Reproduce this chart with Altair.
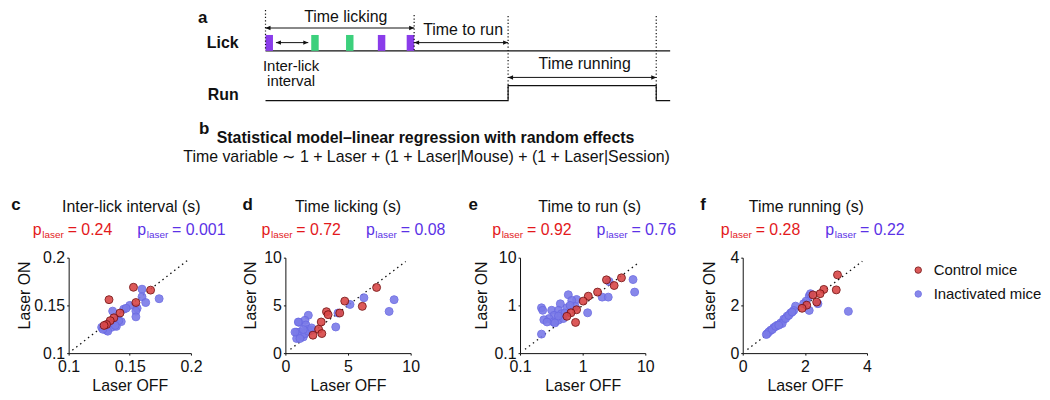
import altair as alt
import pandas as pd

FONT = "Liberation Sans"
INK = "#111111"
RED_TXT = "#E3191C"
BLUE_TXT = "#5B32E6"
RED_FILL = "#D94848"
RED_STROKE = "#7A1212"
BLUE_FILL = "#7B7BE8"
BLUE_STROKE = "#6B6BE3"
PURPLE = "#8A3CEA"
GREEN = "#3CD07C"
GROUPS = ["Control mice", "Inactivated mice"]
FS = 16

# ---------------- panel a: trial timeline (s) ----------------
lick_onsets = [0.0, 0.46, 0.81, 1.13, 1.42]
lick_laser = [True, False, False, True, True]
lick_duration = 0.075
run_start = 2.44
run_end = 3.93
trace_end = 4.07

# ---------------- panels c-f ----------------
panel_letters = ["c", "d", "e", "f"]
panel_titles = ["Inter-lick interval (s)", "Time licking (s)", "Time to run (s)", "Time running (s)"]
p_control = ["0.24", "0.72", "0.92", "0.28"]
p_inactivated = ["0.001", "0.08", "0.76", "0.22"]

c_ctrl_off = [0.153, 0.167, 0.133, 0.155, 0.142, 0.137, 0.134, 0.131, 0.129]
c_ctrl_on = [0.169, 0.166, 0.156, 0.153, 0.142, 0.137, 0.134, 0.130, 0.129]
c_inac_off = [0.160, 0.174, 0.160, 0.163, 0.150, 0.145, 0.136, 0.156, 0.155, 0.155, 0.140, 0.143,
              0.137, 0.127, 0.131, 0.135, 0.132, 0.139, 0.133, 0.128, 0.141, 0.147, 0.138]
c_inac_on = [0.167, 0.157, 0.159, 0.153, 0.150, 0.146, 0.144, 0.147, 0.144, 0.138, 0.136, 0.133,
             0.132, 0.127, 0.124, 0.127, 0.123, 0.128, 0.131, 0.125, 0.134, 0.147, 0.129]

d_ctrl_off = [7.28, 4.74, 6.14, 3.28, 3.41, 4.34, 2.86, 2.65, 2.91, 2.20]
d_ctrl_on = [6.88, 5.45, 4.90, 4.34, 4.03, 4.20, 3.26, 2.50, 2.05, 1.88]
d_inac_off = [6.27, 8.68, 5.16, 8.28, 4.20, 4.02, 1.83, 1.09, 1.56, 1.64, 0.90, 1.16,
              2.09, 1.77, 1.43, 0.90, 1.30, 1.56, 1.83, 1.16, 2.09, 1.43, 1.03, 0.77]
d_inac_on = [5.80, 5.60, 5.10, 4.37, 4.20, 2.74, 3.96, 3.23, 3.44, 2.95, 2.19, 2.22,
             2.40, 2.47, 1.70, 1.53, 1.88, 2.05, 2.29, 1.53, 2.64, 2.47, 3.26, 2.20]

e_ctrl_off = [4.16, 2.40, 3.18, 1.73, 1.23, 1.02, 0.80, 0.65, 0.56, 0.77]
e_ctrl_on = [3.78, 3.43, 2.61, 1.90, 1.56, 1.23, 0.81, 0.70, 0.59, 0.44]
e_inac_off = [6.37, 6.76, 2.65, 2.05, 2.56, 1.20, 0.59, 0.80, 0.67, 0.44, 0.56, 0.76, 0.22, 0.23,
              0.32, 0.41, 0.35, 0.29, 0.24, 0.34, 0.41, 0.49, 0.46, 0.52, 0.36, 0.22, 0.27, 0.41, 0.63]
e_inac_on = [3.48, 1.90, 3.16, 1.49, 1.49, 0.70, 1.67, 1.33, 1.27, 1.08, 0.89, 0.95, 0.89, 0.79,
             0.79, 0.79, 0.62, 0.53, 0.50, 0.45, 0.49, 0.53, 0.67, 0.69, 0.43, 0.25, 0.45, 0.60, 1.00]

f_ctrl_off = [3.05, 3.01, 2.61, 2.49, 2.26, 2.38, 2.06, 1.91]
f_ctrl_on = [3.28, 2.65, 2.67, 2.49, 2.44, 2.14, 2.01, 1.88]
f_inac_off = [3.40, 2.14, 2.04, 2.42, 2.14, 1.70, 1.64, 1.54, 1.43, 1.32, 1.22, 1.11, 1.00,
              0.90, 0.79, 0.84, 0.95, 1.06, 1.27, 1.38, 1.48, 1.59, 1.16, 1.96, 2.18, 0.76]
f_inac_on = [1.75, 2.39, 2.18, 2.07, 1.79, 1.97, 1.79, 1.68, 1.55, 1.42, 1.26, 1.17, 1.07,
             0.96, 0.82, 0.89, 0.99, 1.12, 1.24, 1.45, 1.58, 1.72, 1.17, 2.07, 2.49, 0.78]

axis_ticks = [[0.1, 0.15, 0.2], [0, 5, 10], [0.1, 1, 10], [0, 2, 4]]
scale_types = ["linear", "linear", "log", "linear"]
diagonals = [[0.103, 0.197], [0.4, 9.6], [0.12, 7.8], [0.15, 3.85]]

one = pd.DataFrame({"k": [0]})


def label(s, x, y, size=FS, color=INK, weight="normal", align="left", angle=0, dx=0,
          baseline="alphabetic", xenc=None, line_height=None):
    kw = dict(text=s, font=FONT, fontSize=size, color=color, fontWeight=weight, align=align,
              baseline=baseline, angle=angle, dx=dx)
    if line_height is not None:
        kw["lineHeight"] = line_height
    return alt.Chart(one).mark_text(**kw).encode(
        x=xenc if xenc is not None else alt.value(x), y=alt.value(y))


# ================= diagram (a) and model (b), drawn above panel c =================
T0_PX = 198          # where t = 0 sits, relative to panel c's plot origin
PX_PER_S = 100.0
tscale = alt.Scale(domain=[0, trace_end], range=[T0_PX, T0_PX + trace_end * PX_PER_S])


def tX(field):
    return alt.X(field, type="quantitative", scale=tscale, axis=None)


def tdat(t):
    return alt.XDatum(t, type="quantitative", scale=tscale, axis=None)


LICK_Y, LICK_TOP = -208, -224
RUN_LO, RUN_HI = -158, -173

licks = pd.DataFrame({"on": lick_onsets,
                      "off": [t + lick_duration for t in lick_onsets],
                      "laser": lick_laser})
lick_end = lick_onsets[-1] + lick_duration

dl = []
dl.append(alt.Chart(pd.DataFrame({"a": [0.0], "b": [trace_end]})).mark_rule(
    color=INK, strokeWidth=1.2).encode(x=tX("a"), x2="b", y=alt.value(LICK_Y)))
dl.append(alt.Chart(licks).transform_filter("datum.laser").mark_rect(fill=PURPLE).encode(
    x=tX("on"), x2="off", y=alt.value(LICK_TOP), y2=alt.value(LICK_Y)))
dl.append(alt.Chart(licks).transform_filter("!datum.laser").mark_rect(fill=GREEN).encode(
    x=tX("on"), x2="off", y=alt.value(LICK_TOP), y2=alt.value(LICK_Y)))

run_df = pd.DataFrame({"t": [0.0, run_start, run_start, run_end, run_end, trace_end],
                       "state": [0, 0, 1, 1, 0, 0], "i": [0, 1, 2, 3, 4, 5]})
dl.append(alt.Chart(run_df).mark_line(color=INK, strokeWidth=1.2).encode(
    x=tX("t"), y=alt.Y("state:Q", scale=alt.Scale(domain=[0, 1], range=[RUN_LO, RUN_HI]), axis=None),
    order="i:Q"))

dot = dict(color=INK, strokeWidth=1.2, strokeDash=[1.2, 2.2])
dl.append(alt.Chart(pd.DataFrame({"t": [0.0]})).mark_rule(**dot).encode(
    x=tX("t"), y=alt.value(-249), y2=alt.value(LICK_Y)))
dl.append(alt.Chart(pd.DataFrame({"t": [lick_end]})).mark_rule(**dot).encode(
    x=tX("t"), y=alt.value(-244), y2=alt.value(LICK_Y)))
dl.append(alt.Chart(pd.DataFrame({"t": [run_start, run_end]})).mark_rule(**dot).encode(
    x=tX("t"), y=alt.value(-243), y2=alt.value(RUN_LO)))


def arrow(t1, t2, y):
    base = alt.Chart(pd.DataFrame({"t1": [t1], "t2": [t2]}))
    line = base.mark_rule(color=INK, strokeWidth=1).encode(x=tX("t1"), x2="t2", y=alt.value(y))
    left = base.mark_point(shape="M0,0L1,-0.45L1,0.45Z", filled=True, size=100, color=INK,
                           opacity=1).encode(x=tX("t1"), y=alt.value(y))
    right = base.mark_point(shape="M0,0L-1,-0.45L-1,0.45Z", filled=True, size=100, color=INK,
                            opacity=1).encode(x=tX("t2"), y=alt.value(y))
    return [line, left, right]


gap = 0.03
il_a, il_b = lick_onsets[0] + lick_duration + gap, lick_onsets[1] - gap
dl += arrow(0.0, lick_end, -231)
dl += arrow(il_a, il_b, -216.3)
dl += arrow(lick_end, run_start, -216.3)
dl += arrow(run_start, run_end, -181.3)

dl.append(label("Time licking", 0, -237, align="center", xenc=tdat(lick_end / 2), dx=6))
dl.append(label("Time to run", 0, -223.5, align="center", xenc=tdat((lick_end + run_start) / 2), dx=2))
dl.append(label("Time running", 0, -190, align="center", xenc=tdat((run_start + run_end) / 2), dx=2.5))
dl.append(label(["Inter-lick", "interval"], 0, -188, size=15, align="center",
                xenc=tdat((il_a + il_b) / 2), dx=-1, line_height=15))
dl.append(label("a", 130, -236, size=17, weight="bold"))
dl.append(label("Lick", 139, -210.7, weight="bold"))
dl.append(label("Run", 140, -159, weight="bold"))
dl.append(label("b", 131, -124.5, size=17, weight="bold"))
dl.append(label("Statistical model\u2013linear regression with random effects", 359, -115,
                weight="bold", align="center"))
dl.append(label("Time variable \u223c 1 + Laser + (1 + Laser|Mouse) + (1 + Laser|Session)",
                360, -96, align="center"))
diagram = alt.layer(*dl)

# ================= scatter panels =================
PLOT_H = 96
geoms = [
    dict(w=123, view=218, letter=-53, title=63, red=-36, blue=69, ylab=-44),
    dict(w=126, view=236, letter=-38, title=63, red=-24, blue=81, ylab=-35),
    dict(w=126, view=224, letter=-47, title=70, red=-28, blue=77, ylab=-38),
    dict(w=125, view=125, letter=-40, title=64, red=-22, blue=83, ylab=-33),
]
data_sets = [
    (c_ctrl_off, c_ctrl_on, c_inac_off, c_inac_on),
    (d_ctrl_off, d_ctrl_on, d_inac_off, d_inac_on),
    (e_ctrl_off, e_ctrl_on, e_inac_off, e_inac_on),
    (f_ctrl_off, f_ctrl_on, f_inac_off, f_inac_on),
]


def p_value(x, value, color):
    return [
        label("p", x, -23, color=color),
        label("laser", x + 9.5, -19.5, size=10, color=color),
        label("= " + value, x + 35, -23, color=color),
    ]


def panel(k, with_legend):
    g = geoms[k]
    off_c, on_c, off_i, on_i = data_sets[k]
    ticks = axis_ticks[k]
    skw = dict(type=scale_types[k], domain=[ticks[0], ticks[-1]], nice=False)
    if scale_types[k] == "linear":
        skw["zero"] = False
    xsc = alt.Scale(range=[0, g["w"]], **skw)
    ysc = alt.Scale(**skw)
    xax = alt.Axis(values=ticks, format="~r", title="Laser OFF", grid=False, labelFlush=False,
                   tickSize=2, labelPadding=3, titlePadding=4, orient="bottom")
    yax = alt.Axis(values=ticks, format="~r", title=None, grid=False, labelFlush=False,
                   tickSize=2, labelPadding=2, orient="left")
    df = pd.DataFrame({
        "group": [GROUPS[1]] * len(off_i) + [GROUPS[0]] * len(off_c),
        "off": off_i + off_c,
        "on": on_i + on_c,
    })
    if with_legend:
        leg = alt.Legend(orient="none", legendX=169, legendY=5, title=None, labelFont=FONT,
                         labelFontSize=15, labelColor=INK, symbolType="circle", symbolSize=42,
                         symbolStrokeWidth=1, labelOffset=8, rowPadding=8, padding=0,
                         symbolOpacity=0.9)
    else:
        leg = None
    diag = alt.Chart(pd.DataFrame({"v": diagonals[k]})).mark_line(
        color=INK, strokeDash=[1.5, 3.5], strokeWidth=1.3).encode(
        x=alt.X("v:Q", scale=xsc, axis=xax), y=alt.Y("v:Q", scale=ysc, axis=yax))
    pts = alt.Chart(df).mark_circle(size=64, opacity=0.9, strokeWidth=1).encode(
        x=alt.X("off:Q", scale=xsc, axis=xax),
        y=alt.Y("on:Q", scale=ysc, axis=yax),
        fill=alt.Fill("group:N", scale=alt.Scale(domain=GROUPS, range=[RED_FILL, BLUE_FILL]), legend=leg),
        stroke=alt.Stroke("group:N", scale=alt.Scale(domain=GROUPS, range=[RED_STROKE, BLUE_STROKE]),
                          legend=leg),
    )
    texts = [
        label(panel_letters[k], g["letter"], -48, size=17, weight="bold", align="center"),
        label(panel_titles[k], g["title"], -46, align="center"),
        label("Laser ON", g["ylab"], 38, angle=270, align="center", baseline="middle"),
    ]
    texts += p_value(g["red"], p_control[k], RED_TXT)
    texts += p_value(g["blue"], p_inactivated[k], BLUE_TXT)
    scatter = alt.layer(diag, pts, *texts)
    if k == 0:
        combo = alt.layer(scatter, diagram).resolve_scale(x="independent", y="independent")
    else:
        combo = scatter
    return combo.properties(width=g["view"], height=PLOT_H)


panels = [panel(k, k == 3) for k in range(4)]
chart = alt.hconcat(*panels, spacing=0, bounds="flush").resolve_scale(
    fill="independent", stroke="independent"
).properties(
    padding={"left": 3, "top": 0, "right": 0, "bottom": 0}
).configure_view(stroke=None).configure_axis(
    labelFont=FONT, titleFont=FONT, labelFontSize=FS, titleFontSize=FS, titleFontWeight="normal",
    labelColor=INK, titleColor=INK, domainColor=INK, tickColor=INK, domainWidth=1
).configure_legend(labelFont=FONT)

chart.save("out.html", embed_options={"renderer": "svg", "actions": False})
